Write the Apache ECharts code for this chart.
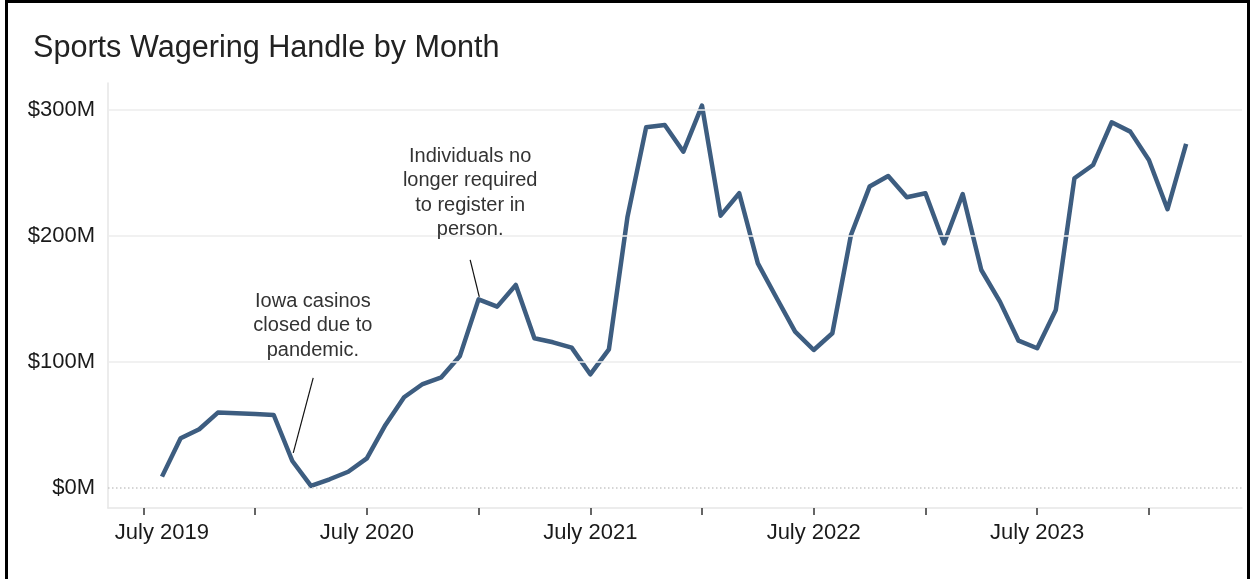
<!DOCTYPE html>
<html>
<head>
<meta charset="utf-8">
<script src="https://cdn.jsdelivr.net/npm/echarts@6/dist/echarts.min.js"></script>
<style>
  html, body { margin: 0; padding: 0; background: #fff; }
  #main { width: 1257px; height: 579px; }
</style>
</head>
<body>
<div id="main"></div>
<script>
var chart = echarts.init(document.getElementById('main'));

// monthly handle, $M
var months = [
  '2019-08','2019-09','2019-10','2019-11','2019-12',
  '2020-01','2020-02','2020-03','2020-04','2020-05','2020-06','2020-07','2020-08','2020-09','2020-10','2020-11','2020-12',
  '2021-01','2021-02','2021-03','2021-04','2021-05','2021-06','2021-07','2021-08','2021-09','2021-10','2021-11','2021-12',
  '2022-01','2022-02','2022-03','2022-04','2022-05','2022-06','2022-07','2022-08','2022-09','2022-10','2022-11','2022-12',
  '2023-01','2023-02','2023-03','2023-04','2023-05','2023-06','2023-07','2023-08','2023-09','2023-10','2023-11','2023-12',
  '2024-01','2024-02','2024-03'
];
var handle = [
  9.0, 39.4, 46.6, 59.8, 59.3,
  58.7, 57.9, 21.4, 1.6, 6.9, 12.9, 23.5, 50.0, 72.0, 82.5, 87.8, 104.8,
  149.7, 143.9, 161.1, 118.8, 115.6, 111.4, 90.2, 110.0, 215.3, 286.2, 288.1, 266.9,
  303.4, 216.1, 233.9, 178.3, 151.0, 124.1, 109.5, 122.8, 200.8, 239.2, 247.6, 230.7,
  233.9, 194.2, 233.3, 173.0, 147.9, 116.9, 110.9, 141.3, 245.8, 256.3, 290.2, 282.8,
  260.3, 221.2, 273.0
];

// axis ticks (months since July 2019) and labels
var tickMonths = [0, 6, 12, 18, 24, 30, 36, 42, 48, 54];
var labelMonths = [0, 12, 24, 36, 48];
var yLabels = [0, 100, 200, 300];
var yGrid = [100, 200, 300];

// annotations: text, text centre [month, $M], leader line from / to
var notes = [
  { text: 'Iowa casinos\nclosed due to\npandemic.', at: [9.1, 128.6], from: [9.12, 87.3], to: [8.05, 27.8] },
  { text: 'Individuals no\nlonger required\nto register in\nperson.', at: [17.55, 234.1], from: [17.55, 181], to: [18.04, 151.6] }
];

function monthIndex(s) {
  var p = s.split('-');
  return (parseInt(p[0], 10) - 2019) * 12 + (parseInt(p[1], 10) - 7);
}

var seriesData = months.map(function (m, i) { return [monthIndex(m), handle[i]]; });

var font = 'Liberation Sans, Arial, sans-serif';

chart.setOption({
  backgroundColor: '#fff',
  animation: false,
  title: {
    text: 'Sports Wagering Handle by Month',
    left: 28,
    top: 28,
    textStyle: { color: '#222', fontSize: 30.6, fontWeight: 'normal', fontFamily: font }
  },
  grid: { left: 108, right: 15, top: 83, bottom: 71, outerBoundsMode: 'none' },
  xAxis: {
    type: 'value',
    min: -1.9,
    max: 59,
    splitLine: { show: false },
    axisLine: { show: true, onZero: false, lineStyle: { color: '#e6e6e6', width: 1.5 } },
    axisTick: { show: true, customValues: tickMonths, length: 7, lineStyle: { color: '#333', width: 1.5 } },
    axisLabel: {
      customValues: labelMonths,
      margin: 14,
      color: '#1a1a1a',
      fontSize: 22,
      fontFamily: font,
      formatter: function (v) {
        var t = 'July ' + (2019 + Math.round(v / 12));
        // first label is pushed inside the plot like the original
        return v === labelMonths[0] ? '{edge|' + t + '}' : t;
      },
      rich: {
        edge: { fontSize: 22, color: '#1a1a1a', fontFamily: font, padding: [0, 0, 0, 37] }
      }
    }
  },
  yAxis: {
    type: 'value',
    min: -15.9,
    max: 321.4,
    splitLine: { show: false },
    axisLine: { show: true, onZero: false, lineStyle: { color: '#e6e6e6', width: 1.5 } },
    axisTick: { show: false },
    axisLabel: {
      customValues: yLabels,
      margin: 13,
      color: '#1a1a1a',
      fontSize: 22,
      fontFamily: font,
      formatter: function (v) { return '$' + v + 'M'; }
    }
  },
  graphic: [{
    type: 'rect',
    shape: { x: 6.5, y: 1.5, width: 1242, height: 620 },
    style: { fill: 'none', stroke: '#000', lineWidth: 3 },
    silent: true
  }],
  series: [
    {
      // gridlines
      type: 'line',
      data: [],
      silent: true,
      z: 1,
      markLine: {
        silent: true,
        symbol: 'none',
        label: { show: false },
        animation: false,
        data: yGrid.map(function (v) {
          return { yAxis: v, lineStyle: { color: '#ececec', width: 1.5, type: 'solid' } };
        }).concat([{ yAxis: 0, lineStyle: { color: '#c8c8c8', width: 1.5, type: [1.5, 2.5] } }])
      }
    },
    {
      // annotations
      type: 'line',
      data: [],
      silent: true,
      z: 2,
      markLine: {
        silent: true,
        symbol: 'none',
        label: { show: false },
        lineStyle: { color: '#111', width: 1.2, type: 'solid' },
        data: notes.map(function (n) { return [{ coord: n.from }, { coord: n.to }]; })
      },
      markPoint: {
        silent: true,
        symbol: 'circle',
        symbolSize: 1,
        itemStyle: { color: 'rgba(0,0,0,0)' },
        label: {
          show: true,
          position: 'inside',
          color: '#333',
          fontSize: 20,
          lineHeight: 24.5,
          align: 'center',
          fontFamily: font
        },
        data: notes.map(function (n) { return { coord: n.at, value: n.text, label: { formatter: n.text } }; })
      }
    },
    {
      name: 'Handle',
      type: 'line',
      data: seriesData,
      z: 3,
      showSymbol: false,
      lineStyle: { color: '#3d5d80', width: 4.5, join: 'round' },
      itemStyle: { color: '#3d5d80' }
    }
  ]
});

window.addEventListener('resize', function () {
  chart.resize();
});
</script>
</body>
</html>
